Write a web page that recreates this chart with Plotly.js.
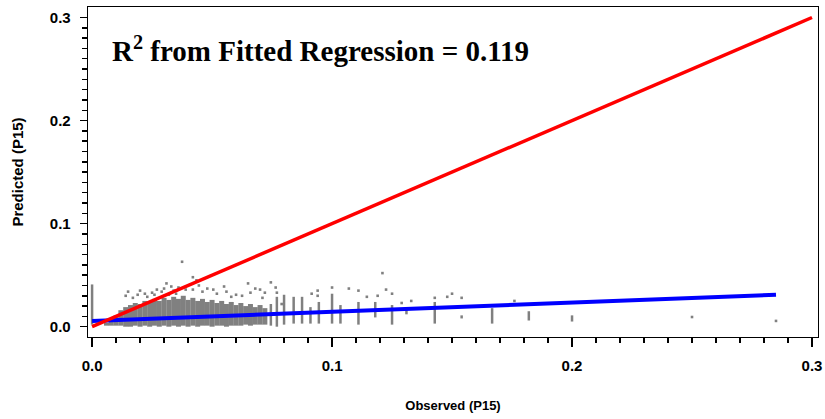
<!DOCTYPE html>
<html>
<head>
<meta charset="utf-8">
<script src="https://cdn.plot.ly/plotly-3.0.1.min.js"></script>
<style>html,body{margin:0;padding:0;background:#fff;}#chart{width:825px;height:419px;}</style>
</head>
<body>
<div id="chart"></div>
<script>
// Dense band of observations (observed value, lowest and highest predicted value)
const bandX  = [0.006, 0.008, 0.010, 0.012, 0.014, 0.016, 0.018, 0.020, 0.022, 0.024, 0.026, 0.028, 0.030, 0.032, 0.034, 0.036, 0.038, 0.040, 0.042, 0.044, 0.046, 0.048, 0.050, 0.052, 0.054, 0.056, 0.058, 0.060, 0.062, 0.064, 0.066, 0.068, 0.070, 0.072];
const bandLo = [0.001, 0.001, 0.001, 0.001, 0.000, 0.000, 0.001, 0.000, 0.001, 0.000, 0.001, 0.000, 0.001, 0.000, 0.001, 0.000, 0.001, 0.000, 0.001, 0.000, 0.001, 0.001, 0.000, 0.001, 0.001, 0.000, 0.001, 0.001, 0.001, 0.002, 0.001, 0.002, 0.002, 0.002];
const bandHi = [0.004, 0.007, 0.011, 0.016, 0.019, 0.021, 0.023, 0.022, 0.025, 0.024, 0.027, 0.025, 0.028, 0.026, 0.029, 0.027, 0.030, 0.026, 0.028, 0.025, 0.027, 0.024, 0.026, 0.023, 0.025, 0.022, 0.024, 0.021, 0.023, 0.020, 0.022, 0.019, 0.021, 0.018];

// Separate vertical streaks at discrete observed values
const colX  = [0.000, 0.0745, 0.0770, 0.0800, 0.0840, 0.0875, 0.0910, 0.0945, 0.1000, 0.1035, 0.1110, 0.1180, 0.1250, 0.1310, 0.1428, 0.1540, 0.1667, 0.1820, 0.2000];
const colLo = [0.002, 0.001, 0.000, 0.002, 0.003, 0.003, 0.003, 0.003, 0.003, 0.003, 0.002, 0.009, 0.002, 0.012, 0.003, 0.008, 0.003, 0.006, 0.005];
const colHi = [0.041, 0.022, 0.029, 0.031, 0.029, 0.029, 0.019, 0.024, 0.032, 0.021, 0.024, 0.024, 0.021, 0.018, 0.024, 0.011, 0.018, 0.015, 0.011];

// Individual scattered observations
const ptX = [0.014, 0.015, 0.017, 0.019, 0.020, 0.022, 0.023, 0.025, 0.026, 0.027, 0.029, 0.030, 0.031, 0.032, 0.033, 0.034, 0.035,
             0.0375, 0.036, 0.039, 0.042, 0.0435, 0.042, 0.0445, 0.046, 0.048, 0.0505, 0.052, 0.055, 0.056, 0.058, 0.060, 0.0625, 0.065, 0.066, 0.068, 0.070, 0.072, 0.071,
             0.0745, 0.0765, 0.0770, 0.0790, 0.0915, 0.094, 0.0940, 0.1000, 0.107, 0.111, 0.1145, 0.1190, 0.121, 0.1225, 0.1250, 0.129, 0.133, 0.1428, 0.1480, 0.1500, 0.1540, 0.1760, 0.2500, 0.2850];
const ptY = [0.030, 0.034, 0.028, 0.031, 0.035, 0.032, 0.029, 0.033, 0.031, 0.036, 0.034, 0.037, 0.042, 0.031, 0.039, 0.035, 0.032,
             0.063, 0.038, 0.036, 0.048, 0.045, 0.036, 0.040, 0.034, 0.037, 0.036, 0.032, 0.039, 0.034, 0.029, 0.031, 0.030, 0.042, 0.033, 0.037, 0.036, 0.033, 0.028,
             0.043, 0.038, 0.033, 0.022, 0.032, 0.035, 0.030, 0.038, 0.037, 0.035, 0.029, 0.030, 0.052, 0.036, 0.032, 0.023, 0.025, 0.028, 0.029, 0.032, 0.028, 0.025, 0.0094, 0.0056];

// Fitted regression line and 1:1 reference line
const fitX = [0.0, 0.285];
const fitY = [0.0055, 0.031];
const refX = [0.0, 0.3];
const refY = [0.0, 0.3];

// Axis tick values (major labelled, minor unlabelled)
const majorTicks = [0.0, 0.1, 0.2, 0.3];
const minorTicks = [0.01, 0.02, 0.03, 0.04, 0.05, 0.06, 0.07, 0.08, 0.09,
                    0.11, 0.12, 0.13, 0.14, 0.15, 0.16, 0.17, 0.18, 0.19,
                    0.21, 0.22, 0.23, 0.24, 0.25, 0.26, 0.27, 0.28, 0.29];

const r2 = 0.119;

function segments(xs, lo, hi) {
  const sx = [], sy = [];
  for (let i = 0; i < xs.length; i++) {
    sx.push(xs[i], xs[i], null);
    sy.push(lo[i], hi[i], null);
  }
  return {sx, sy};
}
const band = segments(bandX, bandLo, bandHi);
const cols = segments(colX, colLo, colHi);

const gray = '#808080';
const traces = [
  {x: band.sx, y: band.sy, mode: 'lines', line: {color: gray, width: 5}, showlegend: false},
  {x: cols.sx, y: cols.sy, mode: 'lines', line: {color: gray, width: 2.5}, showlegend: false},
  {x: ptX, y: ptY, mode: 'markers', marker: {color: gray, size: 2.6, symbol: 'square'}, showlegend: false},
  {x: fitX, y: fitY, mode: 'lines', line: {color: '#0000ff', width: 4}, showlegend: false},
  {x: refX, y: refY, mode: 'lines', line: {color: '#ff0000', width: 3.5}, showlegend: false},
  // invisible trace to carry the minor-tick axes
  {x: [0.1], y: [0.1], xaxis: 'x2', yaxis: 'y2', mode: 'markers', marker: {opacity: 0, size: 1}, hoverinfo: 'skip', showlegend: false}
];

const tickFont = {family: 'Arial, "Liberation Sans", sans-serif', size: 15, color: '#000', weight: 'bold'};
const minorSpec = {tickmode: 'array', tickvals: minorTicks, ticks: 'outside', ticklen: 5, tickwidth: 1.5, tickcolor: '#000', showgrid: false};
const axisCommon = {
  showgrid: false, zeroline: false,
  showline: true, mirror: true, linecolor: '#000', linewidth: 1.3,
  ticks: 'outside', tickcolor: '#000', tickwidth: 1.5,
  tickmode: 'array', tickvals: majorTicks, ticktext: majorTicks.map(v => v.toFixed(1)),
  tickfont: tickFont,
  minor: minorSpec
};
const minorCommon = {
  showgrid: false, zeroline: false, showline: false,
  ticks: 'outside', tickcolor: '#000', tickwidth: 1.5, ticklen: 5,
  tickmode: 'array', tickvals: minorTicks, showticklabels: false
};

const xr = [-0.0017, 0.3025];
const yr = [-0.01, 0.3102];

const layout = {
  width: 825, height: 419,
  margin: {l: 88, r: 7, t: 7, b: 82},
  paper_bgcolor: '#fff', plot_bgcolor: '#fff',
  font: {family: 'Arial, "Liberation Sans", sans-serif', color: '#000'},
  xaxis: Object.assign({}, axisCommon, {
    range: xr, ticklen: 9, ticklabelstandoff: 6, automargin: 'bottom',
    title: {text: '<b>Observed (P15)</b>', font: {size: 13, color: '#000'}, standoff: 27}
  }),
  yaxis: Object.assign({}, axisCommon, {
    range: yr, ticklen: 7, ticklabelstandoff: 6, automargin: 'left',
    title: {text: '<b>Predicted (P15)</b>', font: {size: 15, color: '#000'}, standoff: 22}
  }),
  xaxis2: Object.assign({}, minorCommon, {range: xr, overlaying: 'x', anchor: 'y', side: 'bottom'}),
  yaxis2: Object.assign({}, minorCommon, {range: yr, overlaying: 'y', anchor: 'x', side: 'left'}),
  annotations: [{
    x: 0.0075, y: 0.269, xref: 'x', yref: 'y', xanchor: 'left', yanchor: 'middle',
    showarrow: false,
    text: '<b>R<sup>2</sup> from Fitted Regression = ' + r2.toFixed(3) + '</b>',
    font: {family: '"Liberation Serif", "Times New Roman", serif', size: 29, color: '#000'}
  }]
};

Plotly.newPlot('chart', traces, layout, {staticPlot: true, displayModeBar: false});
</script>
</body>
</html>
